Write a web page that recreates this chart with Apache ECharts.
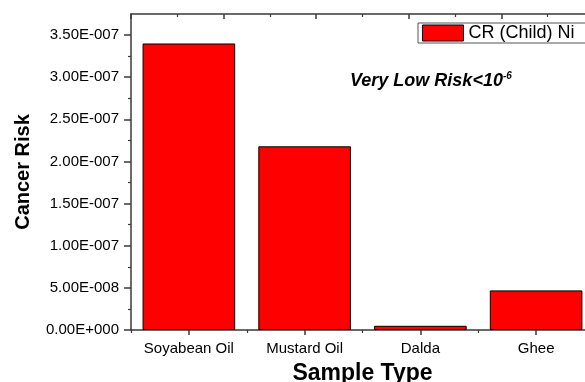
<!DOCTYPE html>
<html>
<head>
<meta charset="utf-8">
<script src="https://cdn.jsdelivr.net/npm/echarts@6/dist/echarts.min.js"></script>
<style>html,body{margin:0;padding:0;background:#fff}#c{width:585px;height:382px}</style>
</head>
<body>
<div id="c"></div>
<script>
var categories = ['Soyabean Oil', 'Mustard Oil', 'Dalda', 'Ghee'];
var crChildNi = [3.40e-7, 2.18e-7, 5.0e-9, 4.7e-8];
var yMajorTicks = [0, 5e-8, 1e-7, 1.5e-7, 2e-7, 2.5e-7, 3e-7, 3.5e-7];
var yMinorTicks = [2.5e-8, 7.5e-8, 1.25e-7, 1.75e-7, 2.25e-7, 2.75e-7, 3.25e-7];
var seriesName = 'CR (Child) Ni';
var yTitle = 'Cancer Risk';
var xTitle = 'Sample Type';

function sciFmt(v) {
  var s = Number(v).toExponential(2);
  var parts = s.split('e');
  var exp = parseInt(parts[1], 10);
  var sign = exp < 0 ? '-' : '+';
  var a = String(Math.abs(exp));
  while (a.length < 3) a = '0' + a;
  return parts[0] + 'E' + sign + a;
}

var axisColor = '#3a3a3a';
var chart = echarts.init(document.getElementById('c'), null, {renderer: 'canvas'});
chart.setOption({
  animation: false,
  backgroundColor: '#ffffff',
  textStyle: {fontFamily: 'Arial, "Liberation Sans", sans-serif'},
  grid: {left: 131, top: 14, right: -9, bottom: 52, containLabel: false, outerBoundsMode: 'none'},
  legend: {
    data: [seriesName],
    left: 418, top: 23,
    padding: [1, 14, 1, 4],
    itemWidth: 41, itemHeight: 16,
    icon: 'rect',
    itemStyle: {borderWidth: 1, borderColor: '#000'},
    borderColor: '#555', borderWidth: 1,
    textStyle: {fontSize: 18, color: '#000', fontFamily: 'Arial, "Liberation Sans", sans-serif'}
  },
  xAxis: [
    {
      type: 'category', data: categories, position: 'bottom',
      axisLine: {show: true, lineStyle: {color: axisColor, width: 1.5}},
      axisTick: {show: true, alignWithLabel: true, length: 5, lineStyle: {color: axisColor, width: 1.5}},
      axisLabel: {color: '#000', fontSize: 15, margin: 11, interval: 0, hideOverlap: false},
      name: xTitle, nameLocation: 'middle', nameGap: 32,
      nameTextStyle: {fontSize: 23, fontWeight: 'bold', color: '#000'}
    },
    {
      type: 'category', data: categories, position: 'bottom',
      axisLine: {show: false},
      axisTick: {show: true, interval: 0, length: 3, lineStyle: {color: axisColor, width: 1.2}},
      axisLabel: {show: false}
    },
    {
      type: 'value', position: 'top', min: 0, max: 5, interval: 1,
      axisLine: {show: true, onZero: false, lineStyle: {color: axisColor, width: 1.5}},
      axisTick: {show: true, inside: true, length: 5, lineStyle: {color: axisColor, width: 1.5}},
      minorTick: {show: true, splitNumber: 2, length: 3, lineStyle: {color: axisColor, width: 1.2}},
      axisLabel: {show: false},
      splitLine: {show: false}
    }
  ],
  yAxis: [
    {
      type: 'value', position: 'left', min: 0, max: 3.75e-7,
      axisLine: {show: true, onZero: false, lineStyle: {color: axisColor, width: 1.5}},
      axisTick: {show: true, length: 7, customValues: yMajorTicks, lineStyle: {color: axisColor, width: 1.5}},
      axisLabel: {color: '#000', fontSize: 15, margin: 12, customValues: yMajorTicks, formatter: sciFmt},
      splitLine: {show: false},
      name: yTitle, nameLocation: 'middle', nameGap: 98, nameRotate: 90,
      nameTextStyle: {fontSize: 20, fontWeight: 'bold', color: '#000'}
    },
    {
      type: 'value', position: 'left', min: 0, max: 3.75e-7,
      axisLine: {show: false},
      axisTick: {show: true, length: 3, customValues: yMinorTicks, lineStyle: {color: axisColor, width: 1.2}},
      axisLabel: {show: false},
      splitLine: {show: false}
    }
  ],
  graphic: [{
    type: 'text', left: 350, top: 71,
    style: {
      text: '{a|Very Low Risk<10}{b|-6}',
      rich: {
        a: {font: 'italic bold 18px Arial, "Liberation Sans", sans-serif', fill: '#000', lineHeight: 20},
        b: {font: 'italic bold 10px Arial, "Liberation Sans", sans-serif', fill: '#000', verticalAlign: 'top', lineHeight: 10}
      }
    }
  }],
  series: [{
    name: seriesName, type: 'bar', xAxisIndex: 0, yAxisIndex: 0,
    data: crChildNi, barWidth: '80%',
    itemStyle: {color: '#ff0000', borderColor: '#000', borderWidth: 1}
  }]
});
</script>
</body>
</html>
